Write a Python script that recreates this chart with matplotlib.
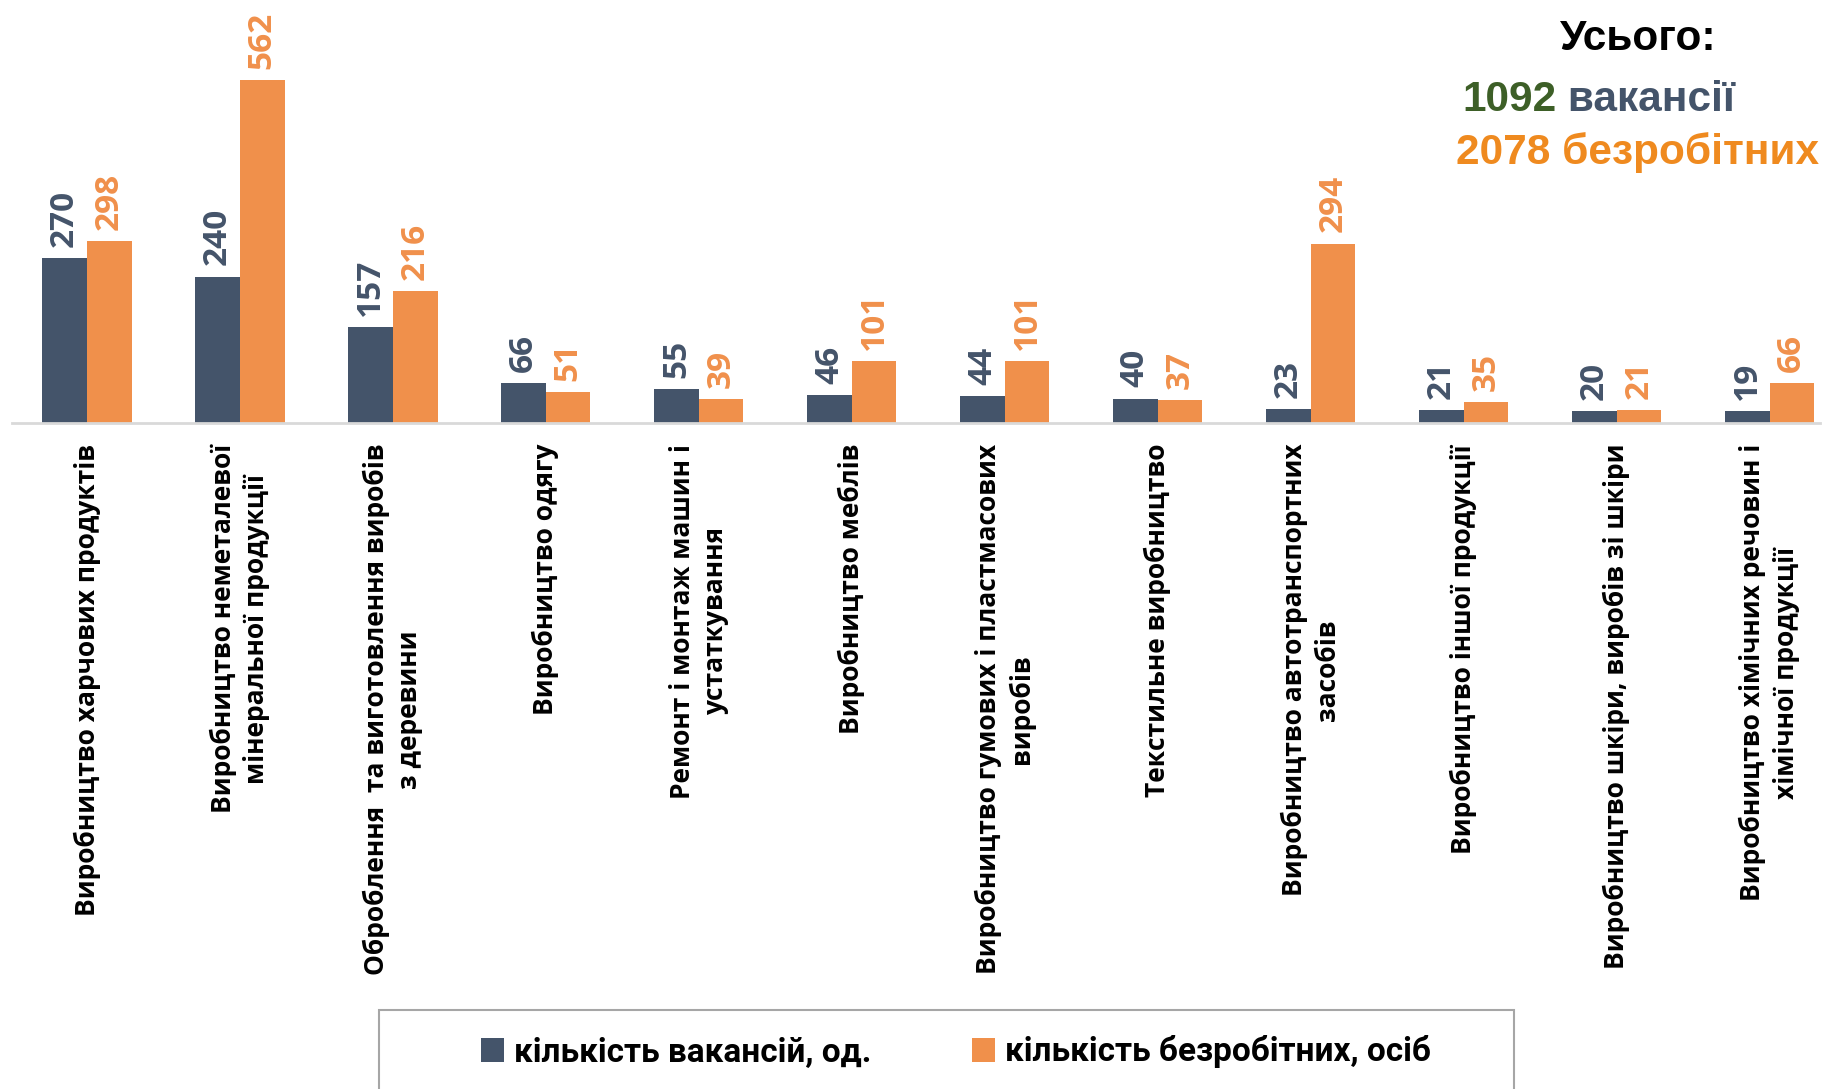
import matplotlib.pyplot as plt
import matplotlib.patches as mpatches
import numpy as np

# Дані з діаграми
categories = [
    "Виробництво харчових продуктів",
    "Виробництво неметалевої\nмінеральної продукції",
    "Оброблення  та виготовлення виробів\nз деревини",
    "Виробництво одягу",
    "Ремонт і монтаж машин і\nустаткування",
    "Виробництво меблів",
    "Виробництво гумових і пластмасових\nвиробів",
    "Текстильне виробництво",
    "Виробництво автотранспортних\nзасобів",
    "Виробництво іншої продукції",
    "Виробництво шкіри, виробів зі шкіри",
    "Виробництво хімічних речовин і\nхімічної продукції",
]
vacancies = [270, 240, 157, 66, 55, 46, 44, 40, 23, 21, 20, 19]
unemployed = [298, 562, 216, 51, 39, 101, 101, 37, 294, 35, 21, 66]
series_names = ["кількість вакансій, од.", "кількість безробітних, осіб"]
total_vacancies = 1092
total_unemployed = 2078

dark = '#44546A'
orange = '#F0904B'

W, H = 1841, 1089
fig = plt.figure(figsize=(W / 100, H / 100), dpi=100)
ax = fig.add_axes([12 / W, 1 - 423 / H, (1820 - 12) / W, 423 / H])

x = np.arange(len(categories))
bw = 0.292
b1 = ax.bar(x - bw / 2, vacancies, bw, color=dark, label=series_names[0])
b2 = ax.bar(x + bw / 2, unemployed, bw, color=orange, label=series_names[1])

ax.set_xlim(-0.49, 11.33)
ax.set_ylim(0, 693)
for s in ['top', 'right', 'left']:
    ax.spines[s].set_visible(False)
ax.spines['bottom'].set_color('#D9D9D9')
ax.spines['bottom'].set_linewidth(2)
ax.set_yticks([])
ax.set_xticks([])

# Підписи значень
for bars, vals, col in [(b1, vacancies, dark), (b2, unemployed, orange)]:
    for rect, v in zip(bars, vals):
        ax.annotate(str(v), (rect.get_x() + rect.get_width() / 2, v),
                    xytext=(0, 8), textcoords='offset points',
                    ha='center', va='bottom', rotation=90,
                    fontsize=24, fontweight='bold', family='Open Sans', color=col)

# Підписи категорій
for xi, cat in zip(x, categories):
    ax.annotate(cat, (xi, 0), xytext=(0, -15), textcoords='offset points',
                ha='center', va='top', rotation=90, multialignment='center',
                linespacing=1.3, fontsize=19, fontweight='bold',
                family='Open Sans', color='black', annotation_clip=False)

# Підсумки
fig.text(1638 / W, 1 - 50 / H, "Усього:", ha='center', va='baseline',
         fontsize=30.5, fontweight='bold', family='Liberation Sans', color='black')
t1 = fig.text(1462 / W, 1 - 120 / H, str(total_vacancies), ha='left', va='bottom',
              fontsize=30.5, fontweight='bold', family='Liberation Sans', color='#3D5F27')
ax.annotate(" вакансії", xy=(1, 0), xycoords=t1, ha='left', va='bottom',
            fontsize=30.5, fontweight='bold', family='Liberation Sans', color=dark,
            annotation_clip=False)
fig.text(1456 / W, 1 - 173 / H, f"{total_unemployed} безробітних", ha='left', va='bottom',
         fontsize=30.5, fontweight='bold', family='Liberation Sans', color='#EF8A1F')

# Легенда
fig.patches.append(mpatches.Rectangle((379 / W, -0.05), (1514 - 379) / W, 0.05 + 1 - 1010 / H,
                                      transform=fig.transFigure, facecolor='none',
                                      edgecolor='#A6A6A6', linewidth=1.5))
fig.legend(handles=[b1, b2], loc='center', bbox_to_anchor=(956 / W, 1 - 1052 / H),
           ncol=2, frameon=False, handlelength=0.7, handleheight=0.7,
           handletextpad=0.3, columnspacing=3.0,
           prop={'family': 'Roboto', 'weight': 'bold', 'size': 24})

fig.savefig('out.png', dpi=100)
